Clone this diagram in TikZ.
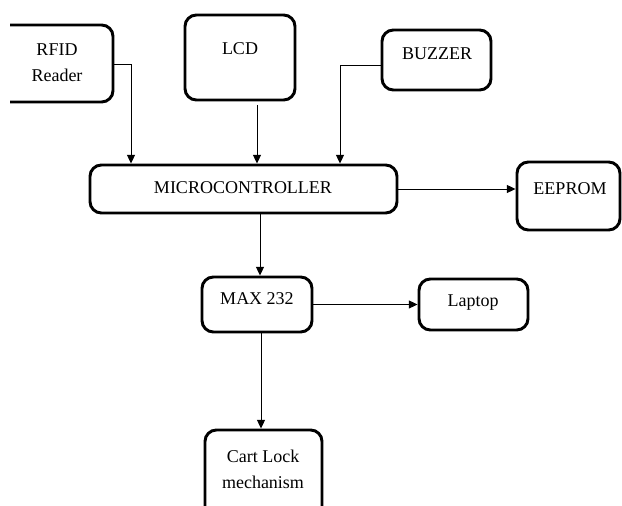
\documentclass[tikz,border=0pt]{standalone}
\usepackage{fontspec}
\setmainfont{Liberation Serif}
\usetikzlibrary{fit,calc,arrows.meta}
\tikzset{
  box/.style={draw, line width=2.2pt, rounded corners=8.5pt, inner sep=0pt},
  lbl/.style={anchor=base, inner sep=0pt, font=\fontsize{13.5pt}{19.5pt}\selectfont},
  arr/.style={line width=0.7pt, -{Triangle[length=6.5pt,width=6pt]}}
}
\begin{document}
\begin{tikzpicture}[x=0.75pt,y=-0.75pt]
\useasboundingbox (0,0) rectangle (622,506);
\begin{scope}
\clip (10,0) rectangle (622,506);
\node[box, fit={(-10,25) (113,102)}] (rfid) {};
\node[box, fit={(185,15) (295,100)}] (lcd) {};
\node[box, fit={(382,30) (491,90)}] (buzzer) {};
\node[box, fit={(90,165) (397,213)}] (mc) {};
\node[box, fit={(517,162) (620,230)}] (eeprom) {};
\node[box, fit={(202,277) (312,332)}] (max) {};
\node[box, fit={(419,279) (528,330)}] (laptop) {};
\node[box, fit={(205,430) (322,530)}] (cart) {};
\end{scope}
\node[lbl] (t1) at (57,56) {RFID};
\node[lbl] (t2) at (57,82) {Reader};
\node[lbl] (t3) at (240,55) {LCD};
\node[lbl] (t4) at (437,60) {BUZZER};
\node[lbl] (t5) at (243,194) {MICROCONTROLLER};
\node[lbl] (t6) at (570,195) {EEPROM};
\node[lbl] (t7) at (257,305) {MAX 232};
\node[lbl] (t8) at (473,307) {Laptop};
\node[lbl] (t9) at (263,462) {Cart Lock};
\node[lbl] (t10) at (263,488) {mechanism};
\coordinate (rfidout) at (113,64);
\coordinate (lcdout) at (257,105);
\coordinate (buzout) at (382,65);
\coordinate (mcout) at (260,213);
\coordinate (maxout) at (261,332);
\draw[arr] (rfidout) -| (131,0 |- mc.north);
\draw[arr] (lcdout) -- (lcdout |- mc.north);
\draw[arr] (buzout) -| (340,0 |- mc.north);
\draw[arr] (mc.east) -- (mc.east -| eeprom.west);
\draw[arr] (mcout) -- (mcout |- max.north);
\draw[arr] (max.east) -- (max.east -| laptop.west);
\draw[arr] (maxout) -- (maxout |- cart.north);
\end{tikzpicture}
\end{document}
